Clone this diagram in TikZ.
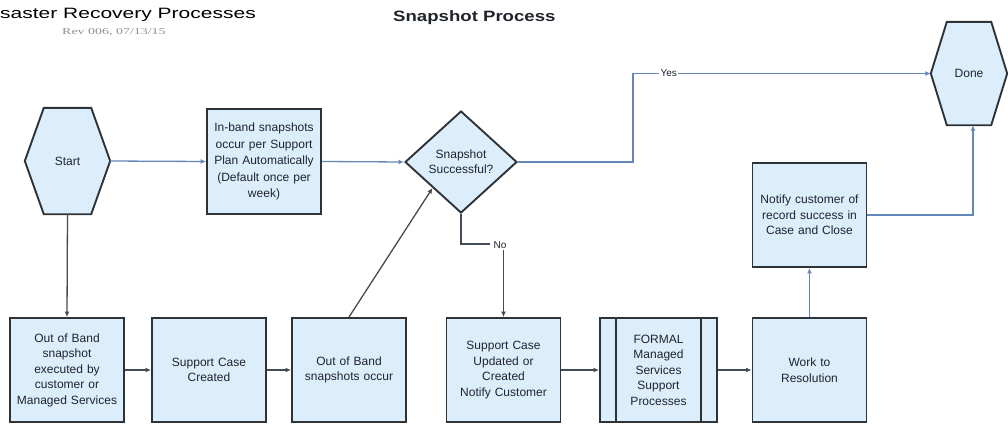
\documentclass[tikz,border=0pt]{standalone}
\usepackage{graphicx}
\usepackage{fontspec}
\setmainfont{Liberation Sans}
\newfontfamily\serifrev{Liberation Serif}
\usetikzlibrary{shapes.geometric,arrows.meta,backgrounds,calc}
\definecolor{boxfill}{HTML}{DCEEFB}
\definecolor{edge}{HTML}{2E3338}
\definecolor{con}{HTML}{434B57}
\definecolor{conblue}{HTML}{6388B8}
\definecolor{txt}{HTML}{1F242B}
\definecolor{revgray}{HTML}{8A8F96}
\begin{document}
\begin{tikzpicture}[x=1pt,y=-1pt,
  procbox/.style={draw=edge, line width=1.9pt, fill=boxfill, minimum width=114pt, minimum height=104pt, inner sep=2pt, align=center, text width=108pt, font=\fontsize{12}{15.5}\selectfont, text=txt},
  hexnode/.style={minimum width=85pt, minimum height=106pt, inner sep=0pt, font=\fontsize{12}{14}\selectfont, text=txt},
  hexshape/.style={draw=edge, line width=1.9pt, fill=boxfill, line join=miter},
  decision/.style={diamond, draw=edge, line width=1.9pt, fill=boxfill, minimum width=112pt, minimum height=102pt, inner sep=0pt, align=center, font=\fontsize{12}{15}\selectfont, text=txt},
  conn/.style={draw=con, line width=1.3pt, -{Latex[length=5.5pt,width=5pt]}},
  connblue/.style={conn, draw=conblue},
  lbl/.style={fill=white, inner sep=1.5pt, font=\fontsize{10}{11}\selectfont, text=txt}
]
\useasboundingbox (0,0) rectangle (1008,424);

% titles
\node[anchor=base west, inner sep=0pt, font=\fontsize{15}{18}\selectfont, text=black] (title) at (0,18) {\scalebox{1.4}[1]{saster Recovery Processes}};
\node[anchor=base west, inner sep=0pt, font=\serifrev\fontsize{9}{10}\selectfont, text=revgray] (rev) at (62,34) {\scalebox{1.55}[1]{Rev 006, 07/13/15}};
\node[anchor=base west, inner sep=0pt, font=\bfseries\fontsize{15}{18}\selectfont, text=txt] (ptitle) at (393,21) {\scalebox{1.24}[1]{Snapshot Process}};

% hexagon nodes
\node[hexnode] (start) at (67.5,161) {Start};
\node[hexnode, minimum width=76pt, minimum height=103pt] (done) at (969,73.5) {Done};
\begin{scope}[on background layer]
\path[hexshape] (start.west) -- ($(start.north west)+(19,0)$) -- ($(start.north east)+(-19,0)$) -- (start.east) -- ($(start.south east)+(-19,0)$) -- ($(start.south west)+(19,0)$) -- cycle;
\path[hexshape] (done.west) -- ($(done.north west)+(16,0)$) -- ($(done.north east)+(-16,0)$) -- (done.east) -- ($(done.south east)+(-16,0)$) -- ($(done.south west)+(16,0)$) -- cycle;
\end{scope}

% process boxes
\node[procbox, minimum height=105pt, font=\fontsize{12}{16.5}\selectfont] (inband) at (264,161.5) {In-band snapshots\\occur per Support\\Plan Automatically\\(Default once per\\week)};
\node[decision] (dia) at (461,162) {Snapshot\\Successful?};
\node[procbox] (notify) at (809.5,215) {Notify customer of\\record success in\\Case and Close};

\node[procbox] (oob) at (67,370) {Out of Band\\snapshot\\executed by\\customer or\\Managed Services};
\node[procbox] (created) at (209,370) {Support Case\\Created};
\node[procbox] (occur) at (349,370) {Out of Band\\snapshots occur};
\node[procbox] (updated) at (503.5,370) {Support Case\\Updated or\\Created\\Notify Customer};
\node[procbox, minimum width=117pt, text width=80pt] (formal) at (658.5,370) {FORMAL\\Managed\\Services\\Support\\Processes};
\draw[draw=edge, line width=1.9pt] ($(formal.north west)+(17,0)$) -- ($(formal.south west)+(17,0)$);
\draw[draw=edge, line width=1.9pt] ($(formal.north east)+(-17,0)$) -- ($(formal.south east)+(-17,0)$);
\node[procbox] (work) at (809.5,370) {Work to\\Resolution};

% connectors
\draw[connblue] (start.east) -- (inband.west);
\draw[connblue] (inband.east) -- (dia.west);
\coordinate (ybend) at (633,162);
\draw[connblue] (dia.east) -- (ybend) |- (done.west) node[lbl, pos=0.56] (yes) {Yes};
\coordinate (nbend) at (490,244);
\draw[con, line width=1.3pt] (dia.south) |- (nbend);
\node[lbl] (no) at (500,245) {No};
\draw[conn] (no.south -| updated.north) -- (updated.north);
\draw[conn] (start.south) -- (oob.north);
\draw[conn] (oob.east) -- (created.west);
\draw[conn] (created.east) -- (occur.west);
\draw[conn] (occur.north) -- (dia.south west);
\draw[conn] (updated.east) -- (formal.west);
\draw[conn] (formal.east) -- (work.west);
\draw[connblue] (work.north) -- (notify.south);
\draw[connblue] (notify.east) -| ($(done.south)+(4,0)$);
\end{tikzpicture}
\end{document}
